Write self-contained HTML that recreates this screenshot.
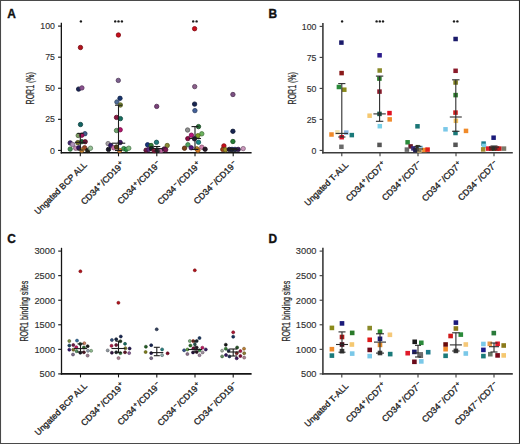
<!DOCTYPE html>
<html><head><meta charset="utf-8"><style>
html,body{margin:0;padding:0;background:#fff;width:520px;height:444px;overflow:hidden}
</style></head><body>
<svg width="520" height="444" viewBox="0 0 520 444" style="position:absolute;left:0;top:0">
<rect x="0" y="0" width="520" height="444" fill="#fff"/>
<line x1="0" y1="0.5" x2="520" y2="0.5" stroke="#4a4a4a" stroke-width="1.1"/>
<line x1="0.5" y1="0" x2="0.5" y2="444" stroke="#484848" stroke-width="1.1"/>
<line x1="519.5" y1="0" x2="519.5" y2="444" stroke="#2a2a2a" stroke-width="1.1"/>
<line x1="0" y1="443.5" x2="520" y2="443.5" stroke="#4a4a4a" stroke-width="1.1"/>
<text x="7.3" y="17.5" font-family='"Liberation Sans", sans-serif' font-weight="bold" font-size="11.9" fill="#111" stroke="#111" stroke-width="0.35">A</text>
<line x1="61.35" y1="22.8" x2="61.35" y2="153.5" stroke="#141414" stroke-width="1.3"/>
<line x1="58.050000000000004" y1="150.40" x2="61.35" y2="150.40" stroke="#141414" stroke-width="1.1"/>
<text x="54.95" y="153.57" text-anchor="end" font-family='"Liberation Sans", sans-serif' font-size="8.8" fill="#2e2e2e" stroke="#2e2e2e" stroke-width="0.12">0</text>
<line x1="58.050000000000004" y1="119.33" x2="61.35" y2="119.33" stroke="#141414" stroke-width="1.1"/>
<text x="54.95" y="122.49" text-anchor="end" font-family='"Liberation Sans", sans-serif' font-size="8.8" fill="#2e2e2e" stroke="#2e2e2e" stroke-width="0.12">25</text>
<line x1="58.050000000000004" y1="88.25" x2="61.35" y2="88.25" stroke="#141414" stroke-width="1.1"/>
<text x="54.95" y="91.42" text-anchor="end" font-family='"Liberation Sans", sans-serif' font-size="8.8" fill="#2e2e2e" stroke="#2e2e2e" stroke-width="0.12">50</text>
<line x1="58.050000000000004" y1="57.18" x2="61.35" y2="57.18" stroke="#141414" stroke-width="1.1"/>
<text x="54.95" y="60.34" text-anchor="end" font-family='"Liberation Sans", sans-serif' font-size="8.8" fill="#2e2e2e" stroke="#2e2e2e" stroke-width="0.12">75</text>
<line x1="58.050000000000004" y1="26.10" x2="61.35" y2="26.10" stroke="#141414" stroke-width="1.1"/>
<text x="54.95" y="29.27" text-anchor="end" font-family='"Liberation Sans", sans-serif' font-size="8.8" fill="#2e2e2e" stroke="#2e2e2e" stroke-width="0.12">100</text>
<line x1="60.7" y1="152.8" x2="251.6" y2="152.8" stroke="#141414" stroke-width="1.6"/>
<line x1="80.3" y1="152.8" x2="80.3" y2="156.3" stroke="#141414" stroke-width="1.1"/>
<text transform="translate(87.5,165.5) rotate(-45)" text-anchor="end" font-family='"Liberation Sans", sans-serif' font-size="8.65" fill="#1e1e1e" stroke="#1e1e1e" stroke-width="0.32">Ungated BCP ALL</text>
<line x1="118.5" y1="152.8" x2="118.5" y2="156.3" stroke="#141414" stroke-width="1.1"/>
<text transform="translate(124.8,165.0) rotate(-45)" text-anchor="end" font-family='"Liberation Sans", sans-serif' font-size="8.8" fill="#1e1e1e" stroke="#1e1e1e" stroke-width="0.32">CD34<tspan dx="0.75" baseline-shift="3.0" font-size="6.4">+</tspan><tspan dx="0.7">/CD19</tspan><tspan dx="0.75" baseline-shift="3.0" font-size="6.4">+</tspan></text>
<line x1="156.8" y1="152.8" x2="156.8" y2="156.3" stroke="#141414" stroke-width="1.1"/>
<text transform="translate(161.3,164.4) rotate(-45)" text-anchor="end" font-family='"Liberation Sans", sans-serif' font-size="8.8" fill="#1e1e1e" stroke="#1e1e1e" stroke-width="0.32">CD34<tspan dx="0.75" baseline-shift="3.0" font-size="6.4">+</tspan><tspan dx="0.7">/CD19</tspan><tspan dx="0.75" baseline-shift="3.3" font-size="6.4">−</tspan></text>
<line x1="195.0" y1="152.8" x2="195.0" y2="156.3" stroke="#141414" stroke-width="1.1"/>
<text transform="translate(201.3,165.0) rotate(-45)" text-anchor="end" font-family='"Liberation Sans", sans-serif' font-size="8.8" fill="#1e1e1e" stroke="#1e1e1e" stroke-width="0.32">CD34<tspan dx="0.75" baseline-shift="3.3" font-size="6.4">−</tspan><tspan dx="0.7">/CD19</tspan><tspan dx="0.75" baseline-shift="3.0" font-size="6.4">+</tspan></text>
<line x1="233.2" y1="152.8" x2="233.2" y2="156.3" stroke="#141414" stroke-width="1.1"/>
<text transform="translate(237.7,164.4) rotate(-45)" text-anchor="end" font-family='"Liberation Sans", sans-serif' font-size="8.8" fill="#1e1e1e" stroke="#1e1e1e" stroke-width="0.32">CD34<tspan dx="0.75" baseline-shift="3.3" font-size="6.4">−</tspan><tspan dx="0.7">/CD19</tspan><tspan dx="0.75" baseline-shift="3.3" font-size="6.4">−</tspan></text>
<text transform="translate(33.9,104.4) rotate(-90) scale(0.7,1)" font-family='"Liberation Sans", sans-serif' font-size="10" fill="#2a2a2a" stroke="#2a2a2a" stroke-width="0.25">ROR1 (%)</text>
<text x="268.6" y="17.6" font-family='"Liberation Sans", sans-serif' font-weight="bold" font-size="11.9" fill="#111" stroke="#111" stroke-width="0.35">B</text>
<line x1="322.9" y1="23.099999999999998" x2="322.9" y2="153.5" stroke="#3c3c3c" stroke-width="1.6"/>
<line x1="319.59999999999997" y1="150.40" x2="322.9" y2="150.40" stroke="#3c3c3c" stroke-width="1.1"/>
<text x="316.5" y="153.57" text-anchor="end" font-family='"Liberation Sans", sans-serif' font-size="8.8" fill="#2e2e2e" stroke="#2e2e2e" stroke-width="0.12">0</text>
<line x1="319.59999999999997" y1="119.40" x2="322.9" y2="119.40" stroke="#3c3c3c" stroke-width="1.1"/>
<text x="316.5" y="122.57" text-anchor="end" font-family='"Liberation Sans", sans-serif' font-size="8.8" fill="#2e2e2e" stroke="#2e2e2e" stroke-width="0.12">25</text>
<line x1="319.59999999999997" y1="88.40" x2="322.9" y2="88.40" stroke="#3c3c3c" stroke-width="1.1"/>
<text x="316.5" y="91.57" text-anchor="end" font-family='"Liberation Sans", sans-serif' font-size="8.8" fill="#2e2e2e" stroke="#2e2e2e" stroke-width="0.12">50</text>
<line x1="319.59999999999997" y1="57.40" x2="322.9" y2="57.40" stroke="#3c3c3c" stroke-width="1.1"/>
<text x="316.5" y="60.57" text-anchor="end" font-family='"Liberation Sans", sans-serif' font-size="8.8" fill="#2e2e2e" stroke="#2e2e2e" stroke-width="0.12">75</text>
<line x1="319.59999999999997" y1="26.40" x2="322.9" y2="26.40" stroke="#3c3c3c" stroke-width="1.1"/>
<text x="316.5" y="29.57" text-anchor="end" font-family='"Liberation Sans", sans-serif' font-size="8.8" fill="#2e2e2e" stroke="#2e2e2e" stroke-width="0.12">100</text>
<line x1="322.09999999999997" y1="152.8" x2="512.8" y2="152.8" stroke="#3c3c3c" stroke-width="1.6"/>
<line x1="341.8" y1="152.8" x2="341.8" y2="156.3" stroke="#3c3c3c" stroke-width="1.1"/>
<text transform="translate(349.0,165.5) rotate(-45)" text-anchor="end" font-family='"Liberation Sans", sans-serif' font-size="8.65" fill="#1e1e1e" stroke="#1e1e1e" stroke-width="0.32">Ungated T-ALL</text>
<line x1="380.0" y1="152.8" x2="380.0" y2="156.3" stroke="#3c3c3c" stroke-width="1.1"/>
<text transform="translate(386.3,165.0) rotate(-45)" text-anchor="end" font-family='"Liberation Sans", sans-serif' font-size="8.8" fill="#1e1e1e" stroke="#1e1e1e" stroke-width="0.32">CD34<tspan dx="0.75" baseline-shift="3.0" font-size="6.4">+</tspan><tspan dx="0.7">/CD7</tspan><tspan dx="0.75" baseline-shift="3.0" font-size="6.4">+</tspan></text>
<line x1="418.0" y1="152.8" x2="418.0" y2="156.3" stroke="#3c3c3c" stroke-width="1.1"/>
<text transform="translate(422.5,164.4) rotate(-45)" text-anchor="end" font-family='"Liberation Sans", sans-serif' font-size="8.8" fill="#1e1e1e" stroke="#1e1e1e" stroke-width="0.32">CD34<tspan dx="0.75" baseline-shift="3.0" font-size="6.4">+</tspan><tspan dx="0.7">/CD7</tspan><tspan dx="0.75" baseline-shift="3.3" font-size="6.4">−</tspan></text>
<line x1="456.0" y1="152.8" x2="456.0" y2="156.3" stroke="#3c3c3c" stroke-width="1.1"/>
<text transform="translate(462.3,165.0) rotate(-45)" text-anchor="end" font-family='"Liberation Sans", sans-serif' font-size="8.8" fill="#1e1e1e" stroke="#1e1e1e" stroke-width="0.32">CD34<tspan dx="0.75" baseline-shift="3.3" font-size="6.4">−</tspan><tspan dx="0.7">/CD7</tspan><tspan dx="0.75" baseline-shift="3.0" font-size="6.4">+</tspan></text>
<line x1="494.0" y1="152.8" x2="494.0" y2="156.3" stroke="#3c3c3c" stroke-width="1.1"/>
<text transform="translate(498.5,164.4) rotate(-45)" text-anchor="end" font-family='"Liberation Sans", sans-serif' font-size="8.8" fill="#1e1e1e" stroke="#1e1e1e" stroke-width="0.32">CD34<tspan dx="0.75" baseline-shift="3.3" font-size="6.4">−</tspan><tspan dx="0.7">/CD7</tspan><tspan dx="0.75" baseline-shift="3.3" font-size="6.4">−</tspan></text>
<text transform="translate(295.5,104.4) rotate(-90) scale(0.7,1)" font-family='"Liberation Sans", sans-serif' font-size="10" fill="#2a2a2a" stroke="#2a2a2a" stroke-width="0.25">ROR1 (%)</text>
<text x="7.3" y="243.3" font-family='"Liberation Sans", sans-serif' font-weight="bold" font-size="11.9" fill="#111" stroke="#111" stroke-width="0.35">C</text>
<line x1="61.5" y1="247.79999999999998" x2="61.5" y2="374.59999999999997" stroke="#141414" stroke-width="1.3"/>
<line x1="58.2" y1="373.90" x2="61.5" y2="373.90" stroke="#141414" stroke-width="1.1"/>
<text x="55.1" y="377.25" text-anchor="end" font-family='"Liberation Sans", sans-serif' font-size="9.3" fill="#2e2e2e" stroke="#2e2e2e" stroke-width="0.12">500</text>
<line x1="58.2" y1="349.34" x2="61.5" y2="349.34" stroke="#141414" stroke-width="1.1"/>
<text x="55.1" y="352.69" text-anchor="end" font-family='"Liberation Sans", sans-serif' font-size="9.3" fill="#2e2e2e" stroke="#2e2e2e" stroke-width="0.12">1000</text>
<line x1="58.2" y1="324.78" x2="61.5" y2="324.78" stroke="#141414" stroke-width="1.1"/>
<text x="55.1" y="328.13" text-anchor="end" font-family='"Liberation Sans", sans-serif' font-size="9.3" fill="#2e2e2e" stroke="#2e2e2e" stroke-width="0.12">1500</text>
<line x1="58.2" y1="300.22" x2="61.5" y2="300.22" stroke="#141414" stroke-width="1.1"/>
<text x="55.1" y="303.57" text-anchor="end" font-family='"Liberation Sans", sans-serif' font-size="9.3" fill="#2e2e2e" stroke="#2e2e2e" stroke-width="0.12">2000</text>
<line x1="58.2" y1="275.66" x2="61.5" y2="275.66" stroke="#141414" stroke-width="1.1"/>
<text x="55.1" y="279.01" text-anchor="end" font-family='"Liberation Sans", sans-serif' font-size="9.3" fill="#2e2e2e" stroke="#2e2e2e" stroke-width="0.12">2500</text>
<line x1="58.2" y1="251.10" x2="61.5" y2="251.10" stroke="#141414" stroke-width="1.1"/>
<text x="55.1" y="254.45" text-anchor="end" font-family='"Liberation Sans", sans-serif' font-size="9.3" fill="#2e2e2e" stroke="#2e2e2e" stroke-width="0.12">3000</text>
<line x1="60.85" y1="373.9" x2="251.6" y2="373.9" stroke="#141414" stroke-width="1.6"/>
<line x1="80.5" y1="373.9" x2="80.5" y2="377.4" stroke="#141414" stroke-width="1.1"/>
<text transform="translate(87.7,386.6) rotate(-45)" text-anchor="end" font-family='"Liberation Sans", sans-serif' font-size="8.65" fill="#1e1e1e" stroke="#1e1e1e" stroke-width="0.32">Ungated BCP ALL</text>
<line x1="118.5" y1="373.9" x2="118.5" y2="377.4" stroke="#141414" stroke-width="1.1"/>
<text transform="translate(124.8,386.1) rotate(-45)" text-anchor="end" font-family='"Liberation Sans", sans-serif' font-size="8.8" fill="#1e1e1e" stroke="#1e1e1e" stroke-width="0.32">CD34<tspan dx="0.75" baseline-shift="3.0" font-size="6.4">+</tspan><tspan dx="0.7">/CD19</tspan><tspan dx="0.75" baseline-shift="3.0" font-size="6.4">+</tspan></text>
<line x1="156.8" y1="373.9" x2="156.8" y2="377.4" stroke="#141414" stroke-width="1.1"/>
<text transform="translate(161.3,385.5) rotate(-45)" text-anchor="end" font-family='"Liberation Sans", sans-serif' font-size="8.8" fill="#1e1e1e" stroke="#1e1e1e" stroke-width="0.32">CD34<tspan dx="0.75" baseline-shift="3.0" font-size="6.4">+</tspan><tspan dx="0.7">/CD19</tspan><tspan dx="0.75" baseline-shift="3.3" font-size="6.4">−</tspan></text>
<line x1="195.0" y1="373.9" x2="195.0" y2="377.4" stroke="#141414" stroke-width="1.1"/>
<text transform="translate(201.3,386.1) rotate(-45)" text-anchor="end" font-family='"Liberation Sans", sans-serif' font-size="8.8" fill="#1e1e1e" stroke="#1e1e1e" stroke-width="0.32">CD34<tspan dx="0.75" baseline-shift="3.3" font-size="6.4">−</tspan><tspan dx="0.7">/CD19</tspan><tspan dx="0.75" baseline-shift="3.0" font-size="6.4">+</tspan></text>
<line x1="233.2" y1="373.9" x2="233.2" y2="377.4" stroke="#141414" stroke-width="1.1"/>
<text transform="translate(237.7,385.5) rotate(-45)" text-anchor="end" font-family='"Liberation Sans", sans-serif' font-size="8.8" fill="#1e1e1e" stroke="#1e1e1e" stroke-width="0.32">CD34<tspan dx="0.75" baseline-shift="3.3" font-size="6.4">−</tspan><tspan dx="0.7">/CD19</tspan><tspan dx="0.75" baseline-shift="3.3" font-size="6.4">−</tspan></text>
<text transform="translate(28.2,341.6) rotate(-90) scale(0.708,1)" font-family='"Liberation Sans", sans-serif' font-size="10" fill="#2a2a2a" stroke="#2a2a2a" stroke-width="0.25">ROR1 binding sites</text>
<text x="268.6" y="243.4" font-family='"Liberation Sans", sans-serif' font-weight="bold" font-size="11.9" fill="#111" stroke="#111" stroke-width="0.35">D</text>
<line x1="322.9" y1="247.79999999999998" x2="322.9" y2="374.59999999999997" stroke="#3c3c3c" stroke-width="1.6"/>
<line x1="319.59999999999997" y1="373.90" x2="322.9" y2="373.90" stroke="#3c3c3c" stroke-width="1.1"/>
<text x="316.5" y="377.25" text-anchor="end" font-family='"Liberation Sans", sans-serif' font-size="9.3" fill="#2e2e2e" stroke="#2e2e2e" stroke-width="0.12">500</text>
<line x1="319.59999999999997" y1="349.34" x2="322.9" y2="349.34" stroke="#3c3c3c" stroke-width="1.1"/>
<text x="316.5" y="352.69" text-anchor="end" font-family='"Liberation Sans", sans-serif' font-size="9.3" fill="#2e2e2e" stroke="#2e2e2e" stroke-width="0.12">1000</text>
<line x1="319.59999999999997" y1="324.78" x2="322.9" y2="324.78" stroke="#3c3c3c" stroke-width="1.1"/>
<text x="316.5" y="328.13" text-anchor="end" font-family='"Liberation Sans", sans-serif' font-size="9.3" fill="#2e2e2e" stroke="#2e2e2e" stroke-width="0.12">1500</text>
<line x1="319.59999999999997" y1="300.22" x2="322.9" y2="300.22" stroke="#3c3c3c" stroke-width="1.1"/>
<text x="316.5" y="303.57" text-anchor="end" font-family='"Liberation Sans", sans-serif' font-size="9.3" fill="#2e2e2e" stroke="#2e2e2e" stroke-width="0.12">2000</text>
<line x1="319.59999999999997" y1="275.66" x2="322.9" y2="275.66" stroke="#3c3c3c" stroke-width="1.1"/>
<text x="316.5" y="279.01" text-anchor="end" font-family='"Liberation Sans", sans-serif' font-size="9.3" fill="#2e2e2e" stroke="#2e2e2e" stroke-width="0.12">2500</text>
<line x1="319.59999999999997" y1="251.10" x2="322.9" y2="251.10" stroke="#3c3c3c" stroke-width="1.1"/>
<text x="316.5" y="254.45" text-anchor="end" font-family='"Liberation Sans", sans-serif' font-size="9.3" fill="#2e2e2e" stroke="#2e2e2e" stroke-width="0.12">3000</text>
<line x1="322.09999999999997" y1="373.9" x2="512.8" y2="373.9" stroke="#3c3c3c" stroke-width="1.6"/>
<line x1="341.8" y1="373.9" x2="341.8" y2="377.4" stroke="#3c3c3c" stroke-width="1.1"/>
<text transform="translate(349.0,386.6) rotate(-45)" text-anchor="end" font-family='"Liberation Sans", sans-serif' font-size="8.65" fill="#1e1e1e" stroke="#1e1e1e" stroke-width="0.32">Ungated T-ALL</text>
<line x1="380.0" y1="373.9" x2="380.0" y2="377.4" stroke="#3c3c3c" stroke-width="1.1"/>
<text transform="translate(386.3,386.1) rotate(-45)" text-anchor="end" font-family='"Liberation Sans", sans-serif' font-size="8.8" fill="#1e1e1e" stroke="#1e1e1e" stroke-width="0.32">CD34<tspan dx="0.75" baseline-shift="3.0" font-size="6.4">+</tspan><tspan dx="0.7">/CD7</tspan><tspan dx="0.75" baseline-shift="3.0" font-size="6.4">+</tspan></text>
<line x1="418.0" y1="373.9" x2="418.0" y2="377.4" stroke="#3c3c3c" stroke-width="1.1"/>
<text transform="translate(422.5,385.5) rotate(-45)" text-anchor="end" font-family='"Liberation Sans", sans-serif' font-size="8.8" fill="#1e1e1e" stroke="#1e1e1e" stroke-width="0.32">CD34<tspan dx="0.75" baseline-shift="3.0" font-size="6.4">+</tspan><tspan dx="0.7">/CD7</tspan><tspan dx="0.75" baseline-shift="3.3" font-size="6.4">−</tspan></text>
<line x1="456.0" y1="373.9" x2="456.0" y2="377.4" stroke="#3c3c3c" stroke-width="1.1"/>
<text transform="translate(462.3,386.1) rotate(-45)" text-anchor="end" font-family='"Liberation Sans", sans-serif' font-size="8.8" fill="#1e1e1e" stroke="#1e1e1e" stroke-width="0.32">CD34<tspan dx="0.75" baseline-shift="3.3" font-size="6.4">−</tspan><tspan dx="0.7">/CD7</tspan><tspan dx="0.75" baseline-shift="3.0" font-size="6.4">+</tspan></text>
<line x1="494.0" y1="373.9" x2="494.0" y2="377.4" stroke="#3c3c3c" stroke-width="1.1"/>
<text transform="translate(498.5,385.5) rotate(-45)" text-anchor="end" font-family='"Liberation Sans", sans-serif' font-size="8.8" fill="#1e1e1e" stroke="#1e1e1e" stroke-width="0.32">CD347<tspan dx="0.75" baseline-shift="3.3" font-size="6.4">−</tspan><tspan dx="0.7">/CD7</tspan><tspan dx="0.75" baseline-shift="3.3" font-size="6.4">−</tspan></text>
<text transform="translate(289.8,341.6) rotate(-90) scale(0.708,1)" font-family='"Liberation Sans", sans-serif' font-size="10" fill="#2a2a2a" stroke="#2a2a2a" stroke-width="0.25">ROR1 binding sites</text>
<circle cx="80.45" cy="47.5" r="2.2" fill="#b4121b" stroke="#730b11" stroke-width="0.8"/>
<circle cx="78.6" cy="89.1" r="2.2" fill="#1b2554" stroke="#111836" stroke-width="0.8"/>
<circle cx="81.9" cy="87.9" r="2.2" fill="#8a5190" stroke="#59345c" stroke-width="0.8"/>
<circle cx="80.5" cy="124.5" r="2.2" fill="#136463" stroke="#0c403f" stroke-width="0.8"/>
<circle cx="84.9" cy="133.7" r="2.2" fill="#425f8e" stroke="#2a3d5b" stroke-width="0.8"/>
<circle cx="78.2" cy="135.5" r="2.2" fill="#7c9c64" stroke="#506440" stroke-width="0.8"/>
<circle cx="81.8" cy="135.2" r="2.2" fill="#a5155f" stroke="#6a0d3d" stroke-width="0.8"/>
<circle cx="70.2" cy="142.9" r="2.2" fill="#422571" stroke="#2a1849" stroke-width="0.8"/>
<circle cx="72.6" cy="144.5" r="2.2" fill="#b093bb" stroke="#715f78" stroke-width="0.8"/>
<circle cx="77.8" cy="142.6" r="2.2" fill="#6d6d25" stroke="#464618" stroke-width="0.8"/>
<circle cx="81.8" cy="141.7" r="2.2" fill="#1b6334" stroke="#113f21" stroke-width="0.8"/>
<circle cx="85.2" cy="141.7" r="2.2" fill="#6d1734" stroke="#460f21" stroke-width="0.8"/>
<circle cx="70.2" cy="149.1" r="2.2" fill="#429051" stroke="#2a5c34" stroke-width="0.8"/>
<circle cx="75.7" cy="148.2" r="2.2" fill="#c288b4" stroke="#7d5873" stroke-width="0.8"/>
<circle cx="78.8" cy="147.8" r="2.2" fill="#34175f" stroke="#210f3d" stroke-width="0.8"/>
<circle cx="84.6" cy="147.8" r="2.2" fill="#9e4825" stroke="#662e18" stroke-width="0.8"/>
<circle cx="87.7" cy="150.4" r="2.2" fill="#25251b" stroke="#181811" stroke-width="0.8"/>
<circle cx="90.5" cy="148.2" r="2.2" fill="#97c297" stroke="#617d61" stroke-width="0.8"/>
<circle cx="81.8" cy="150.3" r="2.2" fill="#d08a34" stroke="#865921" stroke-width="0.8"/>
<circle cx="118.4" cy="35.0" r="2.2" fill="#c90e1b" stroke="#810911" stroke-width="0.8"/>
<circle cx="118.3" cy="80.4" r="2.2" fill="#7c5f8e" stroke="#503d5b" stroke-width="0.8"/>
<circle cx="120.0" cy="98.3" r="2.2" fill="#17346d" stroke="#0f2146" stroke-width="0.8"/>
<circle cx="116.9" cy="102.0" r="2.2" fill="#516d99" stroke="#344662" stroke-width="0.8"/>
<circle cx="120.4" cy="105.0" r="2.2" fill="#7c8a34" stroke="#505921" stroke-width="0.8"/>
<circle cx="116.5" cy="117.4" r="2.2" fill="#8a1742" stroke="#590f2a" stroke-width="0.8"/>
<circle cx="120.4" cy="118.6" r="2.2" fill="#176d5f" stroke="#0f463d" stroke-width="0.8"/>
<circle cx="116.5" cy="130.5" r="2.2" fill="#6da56d" stroke="#466a46" stroke-width="0.8"/>
<circle cx="120.2" cy="129.8" r="2.2" fill="#b4156d" stroke="#730d46" stroke-width="0.8"/>
<circle cx="120.2" cy="142.5" r="2.2" fill="#42176d" stroke="#2a0f46" stroke-width="0.8"/>
<circle cx="108.1" cy="143.6" r="2.2" fill="#a59ea5" stroke="#6a666a" stroke-width="0.8"/>
<circle cx="110.8" cy="145.5" r="2.2" fill="#34176d" stroke="#210f46" stroke-width="0.8"/>
<circle cx="113.8" cy="147.8" r="2.2" fill="#d06ca5" stroke="#86456a" stroke-width="0.8"/>
<circle cx="108.5" cy="149.4" r="2.2" fill="#171725" stroke="#0f0f18" stroke-width="0.8"/>
<circle cx="116.5" cy="147.0" r="2.2" fill="#514217" stroke="#342a0f" stroke-width="0.8"/>
<circle cx="123.8" cy="148.6" r="2.2" fill="#429e51" stroke="#2a6634" stroke-width="0.8"/>
<circle cx="126.2" cy="149.4" r="2.2" fill="#259042" stroke="#185c2a" stroke-width="0.8"/>
<circle cx="128.8" cy="148.2" r="2.2" fill="#7cbb7c" stroke="#507850" stroke-width="0.8"/>
<circle cx="119.6" cy="150.5" r="2.2" fill="#d07c34" stroke="#865021" stroke-width="0.8"/>
<circle cx="156.7" cy="106.4" r="2.2" fill="#7a427a" stroke="#4e2a4e" stroke-width="0.8"/>
<circle cx="156.5" cy="142.3" r="2.2" fill="#257c7c" stroke="#185050" stroke-width="0.8"/>
<circle cx="147.6" cy="144.8" r="2.2" fill="#17347c" stroke="#0f2150" stroke-width="0.8"/>
<circle cx="151.1" cy="145.5" r="2.2" fill="#347c34" stroke="#215021" stroke-width="0.8"/>
<circle cx="167.2" cy="145.5" r="2.2" fill="#8a8a34" stroke="#595921" stroke-width="0.8"/>
<circle cx="146.1" cy="150.2" r="2.2" fill="#6d1742" stroke="#460f2a" stroke-width="0.8"/>
<circle cx="148.8" cy="149.4" r="2.2" fill="#5f257c" stroke="#3d1850" stroke-width="0.8"/>
<circle cx="151.5" cy="148.6" r="2.2" fill="#172525" stroke="#0f1818" stroke-width="0.8"/>
<circle cx="154.2" cy="150.5" r="2.2" fill="#9e1742" stroke="#660f2a" stroke-width="0.8"/>
<circle cx="157.6" cy="150.2" r="2.2" fill="#253434" stroke="#182121" stroke-width="0.8"/>
<circle cx="161.1" cy="150.5" r="2.2" fill="#c26ca5" stroke="#7d456a" stroke-width="0.8"/>
<circle cx="164.2" cy="149.0" r="2.2" fill="#511751" stroke="#340f34" stroke-width="0.8"/>
<circle cx="165.7" cy="149.8" r="2.2" fill="#7c1751" stroke="#500f34" stroke-width="0.8"/>
<circle cx="194.6" cy="28.7" r="2.2" fill="#c90e1b" stroke="#810911" stroke-width="0.8"/>
<circle cx="194.7" cy="86.6" r="2.2" fill="#8a5f8a" stroke="#593d59" stroke-width="0.8"/>
<circle cx="194.6" cy="104.1" r="2.2" fill="#172551" stroke="#0f1834" stroke-width="0.8"/>
<circle cx="194.9" cy="110.6" r="2.2" fill="#425f99" stroke="#2a3d62" stroke-width="0.8"/>
<circle cx="198.5" cy="126.6" r="2.2" fill="#256d34" stroke="#184621" stroke-width="0.8"/>
<circle cx="187.6" cy="130.0" r="2.2" fill="#909090" stroke="#5c5c5c" stroke-width="0.8"/>
<circle cx="201.8" cy="133.8" r="2.2" fill="#6db45f" stroke="#46733d" stroke-width="0.8"/>
<circle cx="191.4" cy="135.2" r="2.2" fill="#bb177c" stroke="#780f50" stroke-width="0.8"/>
<circle cx="197.9" cy="135.7" r="2.2" fill="#7c9e25" stroke="#506618" stroke-width="0.8"/>
<circle cx="187.8" cy="138.6" r="2.2" fill="#8a0942" stroke="#59052a" stroke-width="0.8"/>
<circle cx="194.5" cy="138.8" r="2.2" fill="#251742" stroke="#180f2a" stroke-width="0.8"/>
<circle cx="198.5" cy="142.2" r="2.2" fill="#178a8a" stroke="#0f5959" stroke-width="0.8"/>
<circle cx="187.9" cy="144.8" r="2.2" fill="#51a55f" stroke="#346a3d" stroke-width="0.8"/>
<circle cx="184.5" cy="148.2" r="2.2" fill="#7c4217" stroke="#502a0f" stroke-width="0.8"/>
<circle cx="191.2" cy="147.8" r="2.2" fill="#51177c" stroke="#340f50" stroke-width="0.8"/>
<circle cx="196.8" cy="148.8" r="2.2" fill="#bb902b" stroke="#785c1b" stroke-width="0.8"/>
<circle cx="201.8" cy="147.2" r="2.2" fill="#d081ac" stroke="#86536f" stroke-width="0.8"/>
<circle cx="205.1" cy="149.2" r="2.2" fill="#251725" stroke="#180f18" stroke-width="0.8"/>
<circle cx="197.9" cy="150.3" r="2.2" fill="#d87c25" stroke="#8b5018" stroke-width="0.8"/>
<circle cx="232.9" cy="94.5" r="2.2" fill="#7c5183" stroke="#503454" stroke-width="0.8"/>
<circle cx="232.9" cy="131.3" r="2.2" fill="#172551" stroke="#0f1834" stroke-width="0.8"/>
<circle cx="232.9" cy="141.5" r="2.2" fill="#257c34" stroke="#185021" stroke-width="0.8"/>
<circle cx="223.9" cy="145.9" r="2.2" fill="#c90e1b" stroke="#810911" stroke-width="0.8"/>
<circle cx="222.8" cy="149.4" r="2.2" fill="#9e4217" stroke="#662a0f" stroke-width="0.8"/>
<circle cx="225.5" cy="149.8" r="2.2" fill="#9e9025" stroke="#665c18" stroke-width="0.8"/>
<circle cx="229.3" cy="149.4" r="2.2" fill="#251734" stroke="#180f21" stroke-width="0.8"/>
<circle cx="232.0" cy="149.4" r="2.2" fill="#17255f" stroke="#0f183d" stroke-width="0.8"/>
<circle cx="235.0" cy="149.4" r="2.2" fill="#25347c" stroke="#182150" stroke-width="0.8"/>
<circle cx="238.2" cy="149.4" r="2.2" fill="#341751" stroke="#210f34" stroke-width="0.8"/>
<circle cx="243.2" cy="148.6" r="2.2" fill="#c997bb" stroke="#816178" stroke-width="0.8"/>
<line x1="80.3" y1="133.4" x2="80.3" y2="150.0" stroke="#1e1e1e" stroke-width="1.1"/>
<line x1="77.3" y1="133.4" x2="83.3" y2="133.4" stroke="#1e1e1e" stroke-width="1.1"/>
<line x1="77.3" y1="150.0" x2="83.3" y2="150.0" stroke="#1e1e1e" stroke-width="1.1"/>
<line x1="74.8" y1="142.4" x2="85.8" y2="142.4" stroke="#1e1e1e" stroke-width="1.1"/>
<line x1="118.5" y1="105.2" x2="118.5" y2="150.5" stroke="#1e1e1e" stroke-width="1.1"/>
<line x1="115.0" y1="105.2" x2="122.0" y2="105.2" stroke="#1e1e1e" stroke-width="1.1"/>
<line x1="115.0" y1="150.5" x2="122.0" y2="150.5" stroke="#1e1e1e" stroke-width="1.1"/>
<line x1="111.75" y1="143.2" x2="125.25" y2="143.2" stroke="#1e1e1e" stroke-width="1.1"/>
<line x1="156.8" y1="146.5" x2="156.8" y2="151" stroke="#1e1e1e" stroke-width="1.1"/>
<line x1="153.3" y1="146.5" x2="160.3" y2="146.5" stroke="#1e1e1e" stroke-width="1.1"/>
<line x1="153.3" y1="151" x2="160.3" y2="151" stroke="#1e1e1e" stroke-width="1.1"/>
<line x1="150.8" y1="148.6" x2="162.8" y2="148.6" stroke="#1e1e1e" stroke-width="1.1"/>
<line x1="195.0" y1="126.6" x2="195.0" y2="149.5" stroke="#1e1e1e" stroke-width="1.1"/>
<line x1="191.5" y1="126.6" x2="198.5" y2="126.6" stroke="#1e1e1e" stroke-width="1.1"/>
<line x1="191.5" y1="149.5" x2="198.5" y2="149.5" stroke="#1e1e1e" stroke-width="1.1"/>
<line x1="189.0" y1="138.5" x2="201.0" y2="138.5" stroke="#1e1e1e" stroke-width="1.1"/>
<line x1="233.2" y1="148.5" x2="233.2" y2="151" stroke="#1e1e1e" stroke-width="1.1"/>
<line x1="229.7" y1="148.5" x2="236.7" y2="148.5" stroke="#1e1e1e" stroke-width="1.1"/>
<line x1="229.7" y1="151" x2="236.7" y2="151" stroke="#1e1e1e" stroke-width="1.1"/>
<line x1="227.7" y1="149.4" x2="238.7" y2="149.4" stroke="#1e1e1e" stroke-width="1.1"/>
<rect x="339.15" y="40.35" width="4.5" height="4.5" fill="#1a1a6a"/>
<rect x="339.35" y="70.85" width="4.5" height="4.5" fill="#8a1a1a"/>
<rect x="336.65" y="84.75" width="4.5" height="4.5" fill="#2a8a3a"/>
<rect x="342.05" y="87.45" width="4.5" height="4.5" fill="#8a8a1a"/>
<rect x="329.25" y="132.25" width="4.5" height="4.5" fill="#f08a2a"/>
<rect x="335.15" y="130.05" width="4.5" height="4.5" fill="#f3e4b4"/>
<rect x="344.05" y="130.35" width="4.5" height="4.5" fill="#8ab4e0"/>
<rect x="349.55" y="132.85" width="4.5" height="4.5" fill="#1a7a7a"/>
<rect x="339.45" y="134.95" width="4.5" height="4.5" fill="#e0102a"/>
<rect x="339.15" y="144.55" width="4.5" height="4.5" fill="#6a6a6a"/>
<rect x="377.35" y="53.05" width="4.5" height="4.5" fill="#2a1a8a"/>
<rect x="377.45" y="68.25" width="4.5" height="4.5" fill="#8a8a2a"/>
<rect x="377.15" y="76.35" width="4.5" height="4.5" fill="#2a7a2a"/>
<rect x="377.25" y="89.35" width="4.5" height="4.5" fill="#8a1a2a"/>
<rect x="367.35" y="113.45" width="4.5" height="4.5" fill="#f5c870"/>
<rect x="377.25" y="111.65" width="4.5" height="4.5" fill="#1a5a4a"/>
<rect x="387.25" y="110.85" width="4.5" height="4.5" fill="#e01020"/>
<rect x="387.45" y="117.15" width="4.5" height="4.5" fill="#f08a2a"/>
<rect x="377.55" y="123.95" width="4.5" height="4.5" fill="#7ad0e8"/>
<rect x="377.25" y="142.65" width="4.5" height="4.5" fill="#555555"/>
<rect x="415.25" y="124.05" width="4.5" height="4.5" fill="#1a7676"/>
<rect x="405.35" y="140.05" width="4.5" height="4.5" fill="#2a8a3a"/>
<rect x="408.35" y="144.15" width="4.5" height="4.5" fill="#6a1a2a"/>
<rect x="404.65" y="147.35" width="4.5" height="4.5" fill="#6a6a6a"/>
<rect x="411.15" y="146.15" width="4.5" height="4.5" fill="#3a2a7a"/>
<rect x="413.15" y="147.75" width="4.5" height="4.5" fill="#1a1a5a"/>
<rect x="415.65" y="144.95" width="4.5" height="4.5" fill="#3a3a1a"/>
<rect x="418.45" y="145.75" width="4.5" height="4.5" fill="#8ac8e8"/>
<rect x="417.25" y="148.15" width="4.5" height="4.5" fill="#f0d080"/>
<rect x="422.15" y="147.75" width="4.5" height="4.5" fill="#f08a2a"/>
<rect x="425.35" y="147.35" width="4.5" height="4.5" fill="#e0201a"/>
<rect x="453.35" y="36.75" width="4.5" height="4.5" fill="#1a1a6a"/>
<rect x="453.35" y="68.55" width="4.5" height="4.5" fill="#8a1a2a"/>
<rect x="453.35" y="80.25" width="4.5" height="4.5" fill="#7a7a1a"/>
<rect x="453.35" y="92.85" width="4.5" height="4.5" fill="#2a7a2a"/>
<rect x="453.25" y="110.35" width="4.5" height="4.5" fill="#d01a1a"/>
<rect x="453.65" y="118.55" width="4.5" height="4.5" fill="#f0c060"/>
<rect x="443.25" y="127.05" width="4.5" height="4.5" fill="#7ac8e8"/>
<rect x="463.75" y="128.65" width="4.5" height="4.5" fill="#f08a2a"/>
<rect x="453.25" y="130.75" width="4.5" height="4.5" fill="#1a7a7a"/>
<rect x="453.25" y="142.55" width="4.5" height="4.5" fill="#555555"/>
<rect x="491.35" y="135.45" width="4.5" height="4.5" fill="#1a1a7a"/>
<rect x="481.35" y="141.35" width="4.5" height="4.5" fill="#1a7a8a"/>
<rect x="481.75" y="143.65" width="4.5" height="4.5" fill="#7ad0e8"/>
<rect x="480.95" y="147.15" width="4.5" height="4.5" fill="#a08a2a"/>
<rect x="485.95" y="146.35" width="4.5" height="4.5" fill="#e01a2a"/>
<rect x="489.05" y="146.35" width="4.5" height="4.5" fill="#8a1a1a"/>
<rect x="491.75" y="146.35" width="4.5" height="4.5" fill="#2a3a1a"/>
<rect x="494.85" y="146.35" width="4.5" height="4.5" fill="#8a1a1a"/>
<rect x="497.15" y="146.35" width="4.5" height="4.5" fill="#c01a1a"/>
<rect x="501.75" y="146.35" width="4.5" height="4.5" fill="#7a7a6a"/>
<line x1="341.8" y1="83.6" x2="341.8" y2="137.0" stroke="#2e2e2e" stroke-width="1.1"/>
<line x1="338.2" y1="83.6" x2="345.40000000000003" y2="83.6" stroke="#2e2e2e" stroke-width="1.1"/>
<line x1="338.2" y1="137.0" x2="345.40000000000003" y2="137.0" stroke="#2e2e2e" stroke-width="1.1"/>
<line x1="335.6" y1="133.4" x2="348.0" y2="133.4" stroke="#2e2e2e" stroke-width="1.1"/>
<line x1="379.6" y1="76.1" x2="379.6" y2="121.3" stroke="#2e2e2e" stroke-width="1.1"/>
<line x1="375.90000000000003" y1="76.1" x2="383.3" y2="76.1" stroke="#2e2e2e" stroke-width="1.1"/>
<line x1="375.90000000000003" y1="121.3" x2="383.3" y2="121.3" stroke="#2e2e2e" stroke-width="1.1"/>
<line x1="373.40000000000003" y1="113.9" x2="385.8" y2="113.9" stroke="#2e2e2e" stroke-width="1.1"/>
<line x1="418.0" y1="146.4" x2="418.0" y2="151" stroke="#2e2e2e" stroke-width="1.1"/>
<line x1="414.5" y1="146.4" x2="421.5" y2="146.4" stroke="#2e2e2e" stroke-width="1.1"/>
<line x1="414.5" y1="151" x2="421.5" y2="151" stroke="#2e2e2e" stroke-width="1.1"/>
<line x1="413.0" y1="149.0" x2="423.0" y2="149.0" stroke="#2e2e2e" stroke-width="1.1"/>
<line x1="455.8" y1="79.8" x2="455.8" y2="131.3" stroke="#2e2e2e" stroke-width="1.1"/>
<line x1="452.1" y1="79.8" x2="459.5" y2="79.8" stroke="#2e2e2e" stroke-width="1.1"/>
<line x1="452.1" y1="131.3" x2="459.5" y2="131.3" stroke="#2e2e2e" stroke-width="1.1"/>
<line x1="449.8" y1="117.0" x2="461.8" y2="117.0" stroke="#2e2e2e" stroke-width="1.1"/>
<line x1="494.0" y1="146.0" x2="494.0" y2="149" stroke="#2e2e2e" stroke-width="1.1"/>
<line x1="490.5" y1="146.0" x2="497.5" y2="146.0" stroke="#2e2e2e" stroke-width="1.1"/>
<line x1="490.5" y1="149" x2="497.5" y2="149" stroke="#2e2e2e" stroke-width="1.1"/>
<line x1="489.0" y1="147.2" x2="499.0" y2="147.2" stroke="#2e2e2e" stroke-width="1.1"/>
<circle cx="80.4" cy="271.3" r="1.5" fill="#b4121b" stroke="#730b11" stroke-width="0.6"/>
<circle cx="69.3" cy="341.0" r="1.5" fill="#7c9042" stroke="#505c2a" stroke-width="0.6"/>
<circle cx="77.0" cy="340.6" r="1.5" fill="#346d9e" stroke="#214666" stroke-width="0.6"/>
<circle cx="84.3" cy="343.2" r="1.5" fill="#d0815f" stroke="#86533d" stroke-width="0.6"/>
<circle cx="69.3" cy="345.5" r="1.5" fill="#17425f" stroke="#0f2a3d" stroke-width="0.6"/>
<circle cx="73.3" cy="345.0" r="1.5" fill="#6d1742" stroke="#460f2a" stroke-width="0.6"/>
<circle cx="80.3" cy="343.9" r="1.5" fill="#174225" stroke="#0f2a18" stroke-width="0.6"/>
<circle cx="76.3" cy="347.2" r="1.5" fill="#bb175f" stroke="#780f3d" stroke-width="0.6"/>
<circle cx="83.9" cy="347.5" r="1.5" fill="#255f25" stroke="#183d18" stroke-width="0.6"/>
<circle cx="87.6" cy="346.2" r="1.5" fill="#171717" stroke="#0f0f0f" stroke-width="0.6"/>
<circle cx="69.3" cy="349.7" r="1.5" fill="#34176d" stroke="#210f46" stroke-width="0.6"/>
<circle cx="73.3" cy="349.7" r="1.5" fill="#7c6d25" stroke="#504618" stroke-width="0.6"/>
<circle cx="76.6" cy="351.2" r="1.5" fill="#51905f" stroke="#345c3d" stroke-width="0.6"/>
<circle cx="80.3" cy="352.7" r="1.5" fill="#171725" stroke="#0f0f18" stroke-width="0.6"/>
<circle cx="83.9" cy="352.3" r="1.5" fill="#511725" stroke="#340f18" stroke-width="0.6"/>
<circle cx="88.0" cy="350.8" r="1.5" fill="#909eac" stroke="#5c666f" stroke-width="0.6"/>
<circle cx="91.2" cy="350.8" r="1.5" fill="#90bb90" stroke="#5c785c" stroke-width="0.6"/>
<circle cx="73.0" cy="354.5" r="1.5" fill="#7c6d8a" stroke="#504659" stroke-width="0.6"/>
<circle cx="87.6" cy="355.6" r="1.5" fill="#9e7c90" stroke="#66505c" stroke-width="0.6"/>
<circle cx="118.4" cy="302.8" r="1.5" fill="#b4121b" stroke="#730b11" stroke-width="0.6"/>
<circle cx="120.8" cy="336.5" r="1.5" fill="#172551" stroke="#0f1834" stroke-width="0.6"/>
<circle cx="111.9" cy="340.0" r="1.5" fill="#34517c" stroke="#213450" stroke-width="0.6"/>
<circle cx="116.2" cy="339.2" r="1.5" fill="#172542" stroke="#0f182a" stroke-width="0.6"/>
<circle cx="120.4" cy="341.2" r="1.5" fill="#255125" stroke="#183418" stroke-width="0.6"/>
<circle cx="125.0" cy="343.8" r="1.5" fill="#176d5f" stroke="#0f463d" stroke-width="0.6"/>
<circle cx="111.5" cy="345.8" r="1.5" fill="#ac1742" stroke="#6f0f2a" stroke-width="0.6"/>
<circle cx="116.2" cy="345.0" r="1.5" fill="#6d1734" stroke="#460f21" stroke-width="0.6"/>
<circle cx="125.4" cy="348.2" r="1.5" fill="#7c7c25" stroke="#505018" stroke-width="0.6"/>
<circle cx="129.6" cy="348.5" r="1.5" fill="#251751" stroke="#180f34" stroke-width="0.6"/>
<circle cx="107.7" cy="350.4" r="1.5" fill="#90979e" stroke="#5c6166" stroke-width="0.6"/>
<circle cx="111.9" cy="352.7" r="1.5" fill="#341742" stroke="#210f2a" stroke-width="0.6"/>
<circle cx="116.2" cy="352.3" r="1.5" fill="#172525" stroke="#0f1818" stroke-width="0.6"/>
<circle cx="120.4" cy="353.1" r="1.5" fill="#256d34" stroke="#184621" stroke-width="0.6"/>
<circle cx="125.0" cy="352.3" r="1.5" fill="#5f1725" stroke="#3d0f18" stroke-width="0.6"/>
<circle cx="129.2" cy="353.1" r="1.5" fill="#8a5f99" stroke="#593d62" stroke-width="0.6"/>
<circle cx="118.5" cy="358.1" r="1.5" fill="#ac7c90" stroke="#6f505c" stroke-width="0.6"/>
<circle cx="156.7" cy="329.3" r="1.5" fill="#34425f" stroke="#212a3d" stroke-width="0.6"/>
<circle cx="151.2" cy="345.2" r="1.5" fill="#172551" stroke="#0f1834" stroke-width="0.6"/>
<circle cx="145.9" cy="346.7" r="1.5" fill="#255f25" stroke="#183d18" stroke-width="0.6"/>
<circle cx="162.1" cy="349.4" r="1.5" fill="#257c7c" stroke="#185050" stroke-width="0.6"/>
<circle cx="145.6" cy="352.0" r="1.5" fill="#7c7c17" stroke="#50500f" stroke-width="0.6"/>
<circle cx="151.2" cy="353.1" r="1.5" fill="#251751" stroke="#180f34" stroke-width="0.6"/>
<circle cx="167.6" cy="353.3" r="1.5" fill="#7c0925" stroke="#500518" stroke-width="0.6"/>
<circle cx="162.1" cy="355.2" r="1.5" fill="#90acac" stroke="#5c6f6f" stroke-width="0.6"/>
<circle cx="151.2" cy="358.2" r="1.5" fill="#7c6d8a" stroke="#504659" stroke-width="0.6"/>
<circle cx="194.8" cy="270.3" r="1.5" fill="#b4121b" stroke="#730b11" stroke-width="0.6"/>
<circle cx="199.5" cy="338.0" r="1.5" fill="#17345f" stroke="#0f213d" stroke-width="0.6"/>
<circle cx="189.8" cy="341.0" r="1.5" fill="#7cac7c" stroke="#506f50" stroke-width="0.6"/>
<circle cx="193.2" cy="341.0" r="1.5" fill="#ac3425" stroke="#6f2118" stroke-width="0.6"/>
<circle cx="196.7" cy="341.0" r="1.5" fill="#173442" stroke="#0f212a" stroke-width="0.6"/>
<circle cx="190.4" cy="345.5" r="1.5" fill="#256d25" stroke="#184618" stroke-width="0.6"/>
<circle cx="194.8" cy="344.2" r="1.5" fill="#428a7c" stroke="#2a5950" stroke-width="0.6"/>
<circle cx="196.7" cy="347.5" r="1.5" fill="#251725" stroke="#180f18" stroke-width="0.6"/>
<circle cx="193.4" cy="348.3" r="1.5" fill="#6d0934" stroke="#460521" stroke-width="0.6"/>
<circle cx="202.4" cy="347.7" r="1.5" fill="#bb175f" stroke="#780f3d" stroke-width="0.6"/>
<circle cx="205.8" cy="349.5" r="1.5" fill="#34175f" stroke="#210f3d" stroke-width="0.6"/>
<circle cx="184.1" cy="350.3" r="1.5" fill="#34518a" stroke="#213459" stroke-width="0.6"/>
<circle cx="187.4" cy="349.5" r="1.5" fill="#5f9e42" stroke="#3d662a" stroke-width="0.6"/>
<circle cx="199.5" cy="350.3" r="1.5" fill="#348a42" stroke="#21592a" stroke-width="0.6"/>
<circle cx="193.0" cy="352.4" r="1.5" fill="#250942" stroke="#18052a" stroke-width="0.6"/>
<circle cx="196.7" cy="352.0" r="1.5" fill="#340925" stroke="#210518" stroke-width="0.6"/>
<circle cx="202.6" cy="352.4" r="1.5" fill="#9e909e" stroke="#665c66" stroke-width="0.6"/>
<circle cx="187.4" cy="354.0" r="1.5" fill="#8a6d8a" stroke="#594659" stroke-width="0.6"/>
<circle cx="199.5" cy="355.2" r="1.5" fill="#9e819e" stroke="#665366" stroke-width="0.6"/>
<circle cx="233.2" cy="332.3" r="1.5" fill="#ac1734" stroke="#6f0f21" stroke-width="0.6"/>
<circle cx="233.2" cy="336.7" r="1.5" fill="#17345f" stroke="#0f213d" stroke-width="0.6"/>
<circle cx="225.8" cy="344.7" r="1.5" fill="#171717" stroke="#0f0f0f" stroke-width="0.6"/>
<circle cx="225.8" cy="348.7" r="1.5" fill="#347c34" stroke="#215021" stroke-width="0.6"/>
<circle cx="237.1" cy="347.5" r="1.5" fill="#255125" stroke="#183418" stroke-width="0.6"/>
<circle cx="244.0" cy="348.7" r="1.5" fill="#bb8134" stroke="#785321" stroke-width="0.6"/>
<circle cx="222.1" cy="350.7" r="1.5" fill="#9eac9e" stroke="#666f66" stroke-width="0.6"/>
<circle cx="228.6" cy="350.7" r="1.5" fill="#172542" stroke="#0f182a" stroke-width="0.6"/>
<circle cx="240.4" cy="351.1" r="1.5" fill="#ac1742" stroke="#6f0f2a" stroke-width="0.6"/>
<circle cx="236.7" cy="353.2" r="1.5" fill="#7c2525" stroke="#501818" stroke-width="0.6"/>
<circle cx="244.2" cy="353.2" r="1.5" fill="#907c34" stroke="#5c5021" stroke-width="0.6"/>
<circle cx="222.1" cy="356.4" r="1.5" fill="#5f8a5f" stroke="#3d593d" stroke-width="0.6"/>
<circle cx="226.0" cy="355.0" r="1.5" fill="#34175f" stroke="#210f3d" stroke-width="0.6"/>
<circle cx="229.4" cy="356.4" r="1.5" fill="#25345f" stroke="#18213d" stroke-width="0.6"/>
<circle cx="240.4" cy="356.0" r="1.5" fill="#7c0934" stroke="#500521" stroke-width="0.6"/>
<circle cx="236.7" cy="358.3" r="1.5" fill="#42175f" stroke="#2a0f3d" stroke-width="0.6"/>
<circle cx="244.2" cy="357.6" r="1.5" fill="#ac8190" stroke="#6f535c" stroke-width="0.6"/>
<line x1="80.5" y1="343.9" x2="80.5" y2="352.0" stroke="#1e1e1e" stroke-width="1.1"/>
<line x1="77.5" y1="343.9" x2="83.5" y2="343.9" stroke="#1e1e1e" stroke-width="1.1"/>
<line x1="77.5" y1="352.0" x2="83.5" y2="352.0" stroke="#1e1e1e" stroke-width="1.1"/>
<line x1="74.0" y1="348.6" x2="87.0" y2="348.6" stroke="#1e1e1e" stroke-width="1.1"/>
<line x1="118.5" y1="341.2" x2="118.5" y2="352.5" stroke="#1e1e1e" stroke-width="1.1"/>
<line x1="115.5" y1="341.2" x2="121.5" y2="341.2" stroke="#1e1e1e" stroke-width="1.1"/>
<line x1="115.5" y1="352.5" x2="121.5" y2="352.5" stroke="#1e1e1e" stroke-width="1.1"/>
<line x1="111.5" y1="348.5" x2="125.5" y2="348.5" stroke="#1e1e1e" stroke-width="1.1"/>
<line x1="156.8" y1="347.3" x2="156.8" y2="355.7" stroke="#1e1e1e" stroke-width="1.1"/>
<line x1="153.8" y1="347.3" x2="159.8" y2="347.3" stroke="#1e1e1e" stroke-width="1.1"/>
<line x1="153.8" y1="355.7" x2="159.8" y2="355.7" stroke="#1e1e1e" stroke-width="1.1"/>
<line x1="150.3" y1="352.6" x2="163.3" y2="352.6" stroke="#1e1e1e" stroke-width="1.1"/>
<line x1="195.0" y1="341.0" x2="195.0" y2="352.0" stroke="#1e1e1e" stroke-width="1.1"/>
<line x1="192.0" y1="341.0" x2="198.0" y2="341.0" stroke="#1e1e1e" stroke-width="1.1"/>
<line x1="192.0" y1="352.0" x2="198.0" y2="352.0" stroke="#1e1e1e" stroke-width="1.1"/>
<line x1="188.0" y1="349.5" x2="202.0" y2="349.5" stroke="#1e1e1e" stroke-width="1.1"/>
<line x1="233.2" y1="349.0" x2="233.2" y2="356.0" stroke="#1e1e1e" stroke-width="1.1"/>
<line x1="229.2" y1="349.0" x2="237.2" y2="349.0" stroke="#1e1e1e" stroke-width="1.1"/>
<line x1="229.2" y1="356.0" x2="237.2" y2="356.0" stroke="#1e1e1e" stroke-width="1.1"/>
<line x1="227.2" y1="352.0" x2="239.2" y2="352.0" stroke="#1e1e1e" stroke-width="1.1"/>
<rect x="339.70" y="321.10" width="4.6" height="4.6" fill="#1a1a7a"/>
<rect x="329.60" y="325.60" width="4.6" height="4.6" fill="#8a8a1a"/>
<rect x="349.90" y="330.60" width="4.6" height="4.6" fill="#2a7a2a"/>
<rect x="339.70" y="334.70" width="4.6" height="4.6" fill="#b01a1a"/>
<rect x="339.70" y="342.20" width="4.6" height="4.6" fill="#4a0a1a"/>
<rect x="349.60" y="342.20" width="4.6" height="4.6" fill="#f5c870"/>
<rect x="329.60" y="346.90" width="4.6" height="4.6" fill="#f08a2a"/>
<rect x="339.70" y="348.90" width="4.6" height="4.6" fill="#3a3a3a"/>
<rect x="349.90" y="351.30" width="4.6" height="4.6" fill="#7ac8e8"/>
<rect x="329.60" y="353.30" width="4.6" height="4.6" fill="#1a7a7a"/>
<rect x="367.40" y="325.80" width="4.6" height="4.6" fill="#8a8a2a"/>
<rect x="377.70" y="329.40" width="4.6" height="4.6" fill="#2a8a2a"/>
<rect x="387.60" y="332.50" width="4.6" height="4.6" fill="#f5c878"/>
<rect x="367.40" y="337.50" width="4.6" height="4.6" fill="#e01a1a"/>
<rect x="377.70" y="336.50" width="4.6" height="4.6" fill="#1a1a7a"/>
<rect x="377.70" y="342.60" width="4.6" height="4.6" fill="#e08a2a"/>
<rect x="367.40" y="347.60" width="4.6" height="4.6" fill="#6a0a1a"/>
<rect x="377.70" y="350.70" width="4.6" height="4.6" fill="#3a3a3a"/>
<rect x="387.90" y="351.80" width="4.6" height="4.6" fill="#1a7a7a"/>
<rect x="367.40" y="353.80" width="4.6" height="4.6" fill="#7ac8e8"/>
<rect x="412.40" y="339.50" width="4.6" height="4.6" fill="#1a1a1a"/>
<rect x="419.00" y="340.50" width="4.6" height="4.6" fill="#2a8a3a"/>
<rect x="405.40" y="350.90" width="4.6" height="4.6" fill="#e01a2a"/>
<rect x="412.10" y="349.60" width="4.6" height="4.6" fill="#1a1a6a"/>
<rect x="425.90" y="349.90" width="4.6" height="4.6" fill="#1a7a8a"/>
<rect x="418.50" y="353.40" width="4.6" height="4.6" fill="#6a6a6a"/>
<rect x="412.10" y="359.50" width="4.6" height="4.6" fill="#6a0a1a"/>
<rect x="419.00" y="359.10" width="4.6" height="4.6" fill="#7ac8e8"/>
<rect x="453.60" y="320.30" width="4.6" height="4.6" fill="#1a1a7a"/>
<rect x="453.60" y="326.20" width="4.6" height="4.6" fill="#8a7a1a"/>
<rect x="448.30" y="333.70" width="4.6" height="4.6" fill="#d01a1a"/>
<rect x="458.50" y="332.30" width="4.6" height="4.6" fill="#2a8a3a"/>
<rect x="443.30" y="342.20" width="4.6" height="4.6" fill="#6a0a0a"/>
<rect x="463.50" y="342.20" width="4.6" height="4.6" fill="#f5c878"/>
<rect x="443.30" y="346.90" width="4.6" height="4.6" fill="#f08a2a"/>
<rect x="453.60" y="348.60" width="4.6" height="4.6" fill="#3a3a3a"/>
<rect x="463.50" y="351.20" width="4.6" height="4.6" fill="#7ac8e8"/>
<rect x="443.30" y="353.50" width="4.6" height="4.6" fill="#1a7a7a"/>
<rect x="491.50" y="330.80" width="4.6" height="4.6" fill="#2a7a3a"/>
<rect x="481.10" y="341.70" width="4.6" height="4.6" fill="#7ac8e8"/>
<rect x="487.50" y="341.50" width="4.6" height="4.6" fill="#e89a4a"/>
<rect x="495.30" y="341.50" width="4.6" height="4.6" fill="#e01a2a"/>
<rect x="501.40" y="343.20" width="4.6" height="4.6" fill="#8a7a1a"/>
<rect x="481.10" y="347.60" width="4.6" height="4.6" fill="#1a1a8a"/>
<rect x="488.00" y="351.90" width="4.6" height="4.6" fill="#6a7a6a"/>
<rect x="495.30" y="353.10" width="4.6" height="4.6" fill="#7a0a1a"/>
<rect x="501.40" y="353.10" width="4.6" height="4.6" fill="#f5c870"/>
<rect x="481.10" y="353.80" width="4.6" height="4.6" fill="#1a7a7a"/>
<line x1="342.0" y1="331.9" x2="342.0" y2="352.2" stroke="#2a2a2a" stroke-width="1.1"/>
<line x1="338.5" y1="331.9" x2="345.5" y2="331.9" stroke="#2a2a2a" stroke-width="1.1"/>
<line x1="338.5" y1="352.2" x2="345.5" y2="352.2" stroke="#2a2a2a" stroke-width="1.1"/>
<line x1="336.0" y1="344.5" x2="348.0" y2="344.5" stroke="#2a2a2a" stroke-width="1.1"/>
<line x1="380.0" y1="333.8" x2="380.0" y2="353.1" stroke="#2a2a2a" stroke-width="1.1"/>
<line x1="376.0" y1="333.8" x2="384.0" y2="333.8" stroke="#2a2a2a" stroke-width="1.1"/>
<line x1="376.0" y1="353.1" x2="384.0" y2="353.1" stroke="#2a2a2a" stroke-width="1.1"/>
<line x1="374.0" y1="342.1" x2="386.0" y2="342.1" stroke="#2a2a2a" stroke-width="1.1"/>
<line x1="418.0" y1="345.3" x2="418.0" y2="357.0" stroke="#2a2a2a" stroke-width="1.1"/>
<line x1="415.0" y1="345.3" x2="421.0" y2="345.3" stroke="#2a2a2a" stroke-width="1.1"/>
<line x1="415.0" y1="357.0" x2="421.0" y2="357.0" stroke="#2a2a2a" stroke-width="1.1"/>
<line x1="413.0" y1="352.9" x2="423.0" y2="352.9" stroke="#2a2a2a" stroke-width="1.1"/>
<line x1="455.9" y1="332.8" x2="455.9" y2="351.0" stroke="#2a2a2a" stroke-width="1.1"/>
<line x1="452.15" y1="332.8" x2="459.65" y2="332.8" stroke="#2a2a2a" stroke-width="1.1"/>
<line x1="452.15" y1="351.0" x2="459.65" y2="351.0" stroke="#2a2a2a" stroke-width="1.1"/>
<line x1="449.9" y1="344.9" x2="461.9" y2="344.9" stroke="#2a2a2a" stroke-width="1.1"/>
<line x1="494.0" y1="343.0" x2="494.0" y2="352.0" stroke="#2a2a2a" stroke-width="1.1"/>
<line x1="490.5" y1="343.0" x2="497.5" y2="343.0" stroke="#2a2a2a" stroke-width="1.1"/>
<line x1="490.5" y1="352.0" x2="497.5" y2="352.0" stroke="#2a2a2a" stroke-width="1.1"/>
<line x1="489.0" y1="346.7" x2="499.0" y2="346.7" stroke="#2a2a2a" stroke-width="1.1"/>
<circle cx="80.9" cy="21.4" r="1.2" fill="#1a1a1a"/>
<circle cx="115.2" cy="21.4" r="1.2" fill="#1a1a1a"/>
<circle cx="118.5" cy="21.4" r="1.2" fill="#1a1a1a"/>
<circle cx="121.9" cy="21.4" r="1.2" fill="#1a1a1a"/>
<circle cx="193.2" cy="21.4" r="1.2" fill="#1a1a1a"/>
<circle cx="196.6" cy="21.4" r="1.2" fill="#1a1a1a"/>
<circle cx="342.1" cy="21.4" r="1.2" fill="#1a1a1a"/>
<circle cx="376.6" cy="21.4" r="1.2" fill="#1a1a1a"/>
<circle cx="379.8" cy="21.4" r="1.2" fill="#1a1a1a"/>
<circle cx="383.0" cy="21.4" r="1.2" fill="#1a1a1a"/>
<circle cx="454.0" cy="21.4" r="1.2" fill="#1a1a1a"/>
<circle cx="457.4" cy="21.4" r="1.2" fill="#1a1a1a"/>
</svg>
</body></html>
